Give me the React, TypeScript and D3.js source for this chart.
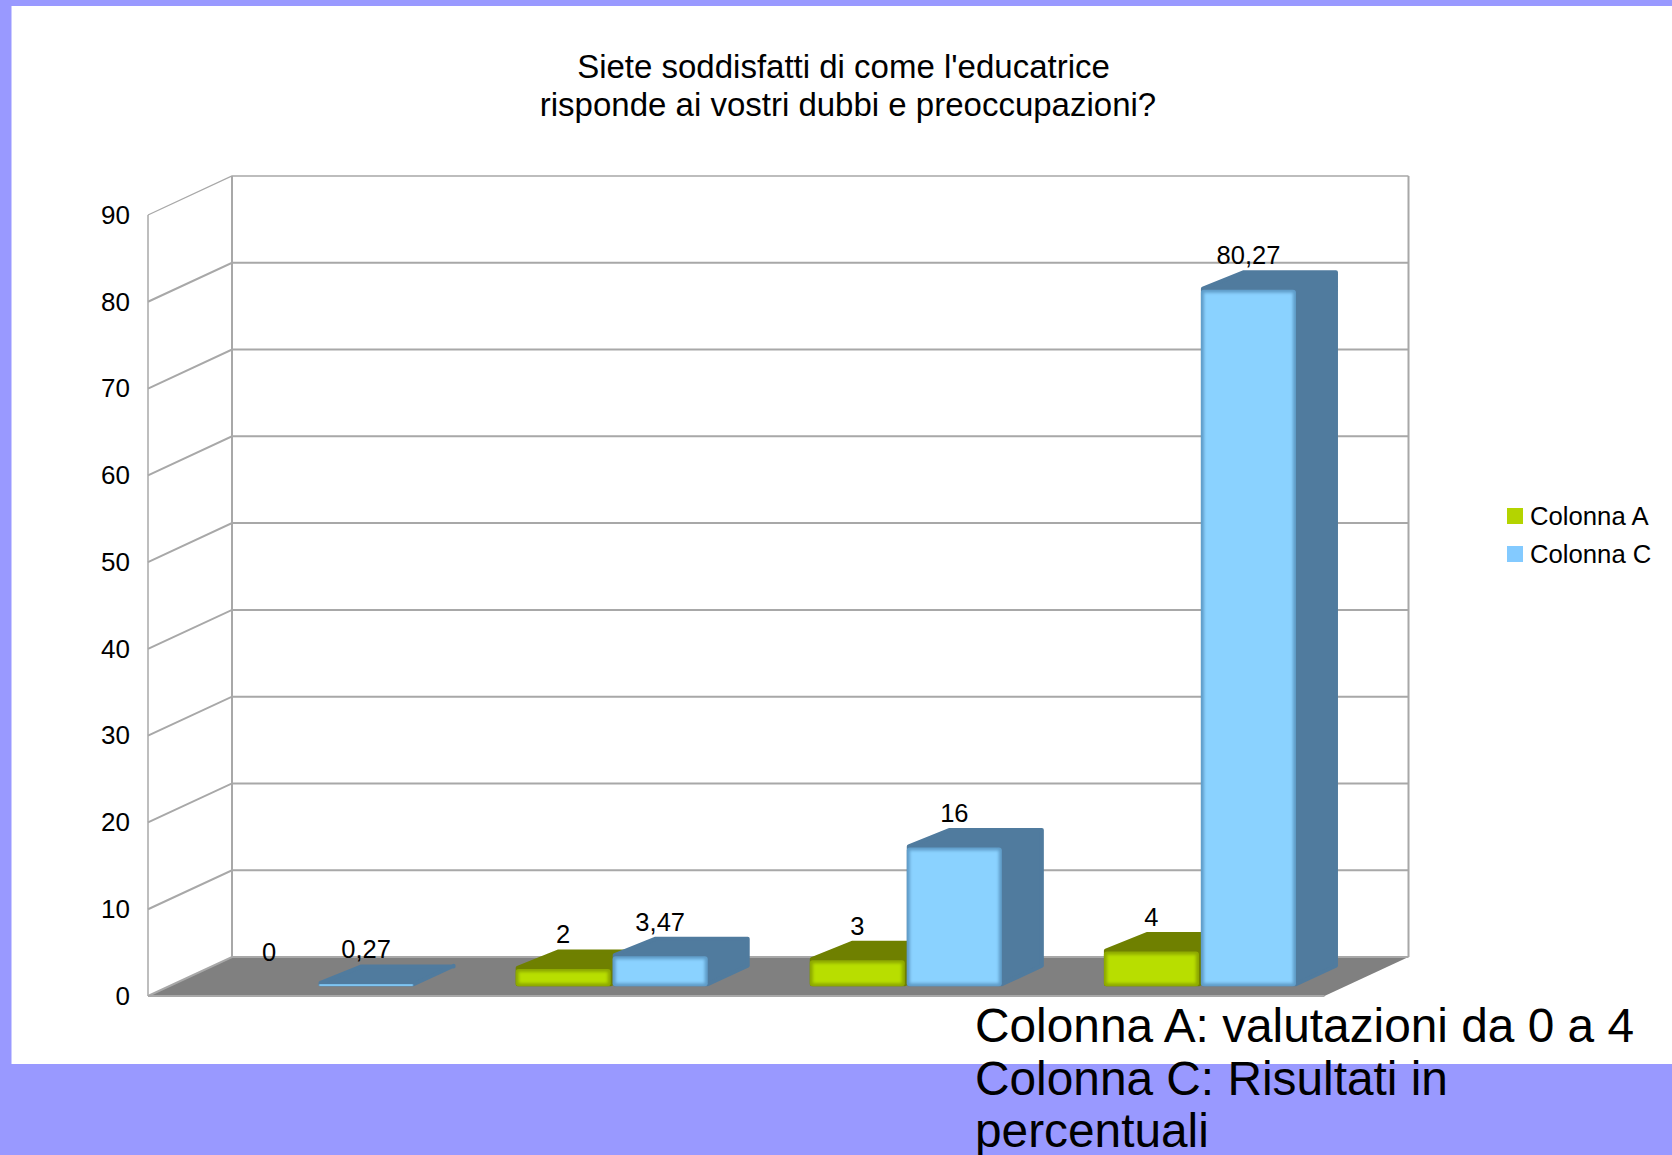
import React, { useRef, useEffect } from 'react';
import * as d3 from 'd3';

const categories = ['1', '2', '3', '4'];
const seriesNames = ['Colonna A', 'Colonna C'];
const colonnaA = [0, 2, 3, 4];
const colonnaC = [0.27, 3.47, 16, 80.27];
const yTicks = [0, 10, 20, 30, 40, 50, 60, 70, 80, 90];
const titleLines = ["Siete soddisfatti di come l'educatrice", 'risponde ai vostri dubbi e preoccupazioni?'];
const noteLines = ['Colonna A: valutazioni da 0 a 4', 'Colonna C: Risultati in', 'percentuali'];

const FONT = '"Liberation Sans", Arial, sans-serif';
const faceColors = ['#b8de00', '#8ad2ff'];
const edgeColors = ['#8da800', '#5f9cc8'];
const sideColors = ['#6f8000', '#507b9e'];
const legendColors = ['#b4d400', '#83caff'];

// the oblique box of the chart
const left = 148;
const right = 1324.5;
const bottom = 996;
const top = 215;
const depthX = 84;
const depthY = 39;
const gridColor = '#a8a8a8';

export default function App() {
    const svgRef = useRef<SVGSVGElement>(null);

    useEffect(() => {
        const svg = d3.select(svgRef.current);
        svg.selectAll('*').remove();

        const x0 = d3.scaleBand().domain(categories).range([0, right - left]).paddingInner(0.347).paddingOuter(0.1735);
        const x1 = d3.scaleBand().domain(seriesNames).range([0, x0.bandwidth()]).paddingInner(0.02).paddingOuter(0);
        const y = d3.scaleLinear().domain([0, 90]).range([bottom, top]);
        const linePath = d3.line();

        // background
        svg.append('rect').attr('width', 1672).attr('height', 1155).attr('fill', '#9999ff');
        svg.append('rect').attr('x', 11.5).attr('y', 6).attr('width', 1661).attr('height', 1058).attr('fill', '#ffffff');

        const defs = svg.append('defs');
        defs.append('filter').attr('id', 'soft')
            .attr('x', '-20%').attr('y', '-20%').attr('width', '140%').attr('height', '140%')
            .append('feGaussianBlur').attr('stdDeviation', 1.6);

        // floor
        svg.append('path')
            .attr('d', linePath([[left, bottom], [left + depthX, bottom - depthY], [right + depthX, bottom - depthY], [right, bottom]]) + 'Z')
            .attr('fill', '#808080');
        svg.append('line')
            .attr('x1', left).attr('x2', right).attr('y1', bottom).attr('y2', bottom)
            .attr('stroke', gridColor).attr('stroke-width', 2);

        // walls
        const grid = svg.append('g').attr('fill', 'none').attr('stroke', gridColor);
        yTicks.forEach(t => {
            const w = t === 90 ? 1.3 : 2;
            grid.append('path').attr('stroke-width', w)
                .attr('d', linePath([[left, y(t)], [left + depthX, y(t) - depthY], [right + depthX, y(t) - depthY]]));
        });
        grid.append('line').attr('x1', left).attr('x2', left).attr('y1', y(90)).attr('y2', y(0)).attr('stroke-width', 1.5);
        grid.append('line').attr('x1', left + depthX).attr('x2', left + depthX).attr('y1', y(90) - depthY).attr('y2', y(0) - depthY).attr('stroke-width', 2);
        grid.append('line').attr('x1', right + depthX).attr('x2', right + depthX).attr('y1', y(90) - depthY).attr('y2', y(0) - depthY).attr('stroke-width', 2);

        // bars stand in the middle half of the depth
        const frontX = depthX * 0.25 + 1.5;
        const frontY = depthY * 0.25;
        const boxX = depthX * 0.5;
        const boxY = depthY * 0.5;
        const labels: { x: number, y: number, text: string }[] = [];

        categories.forEach((c, ci) => {
            [colonnaA[ci], colonnaC[ci]].forEach((v, si) => {
                const xa = left + x0(c) + x1(seriesNames[si]) + frontX;
                const xb = xa + x1.bandwidth();
                const yBase = y(0) - frontY;
                const yTop = y(v) - frontY;
                labels.push({
                    x: (xa + xb) / 2,
                    y: yTop - boxY - 6,
                    text: String(v).replace('.', ','),
                });
                if (v === 0) return;

                const g = svg.append('g');
                // inset by the stroke so the round join gives the soft corners
                g.append('path')
                    .attr('d', linePath([
                        [xa + 2, yTop - 1],
                        [xa + boxX + 1, yTop - boxY + 2],
                        [xb + boxX - 2, yTop - boxY + 2],
                        [xb + boxX - 2, yBase - boxY - 1],
                        [xb, yBase - 2],
                        [xa + 2, yBase - 2],
                    ]) + 'Z')
                    .attr('fill', sideColors[si])
                    .attr('stroke', sideColors[si])
                    .attr('stroke-width', 4)
                    .attr('stroke-linejoin', 'round');

                const h = yBase - yTop;
                g.append('rect')
                    .attr('x', xa).attr('y', yTop).attr('width', xb - xa).attr('height', h)
                    .attr('rx', Math.min(3, h / 2))
                    .attr('fill', edgeColors[si]);
                if (h > 6) {
                    g.append('rect')
                        .attr('x', xa + 3).attr('y', yTop + 3).attr('width', xb - xa - 6).attr('height', h - 6)
                        .attr('fill', faceColors[si])
                        .attr('filter', 'url(#soft)');
                } else {
                    g.append('rect')
                        .attr('x', xa + 1).attr('y', yTop + 0.5).attr('width', xb - xa - 2).attr('height', h - 1)
                        .attr('fill', faceColors[si]);
                }
            });
        });

        // y axis
        const axis = svg.append('g')
            .attr('transform', `translate(${left},0)`)
            .call(d3.axisLeft(y).tickValues(yTicks).tickSize(0).tickPadding(18));
        axis.select('.domain').remove();
        axis.selectAll('text').attr('font-family', FONT).attr('font-size', 26).attr('fill', '#000000');

        // value labels
        svg.append('g').selectAll('text').data(labels).join('text')
            .attr('x', d => d.x).attr('y', d => d.y)
            .attr('text-anchor', 'middle')
            .attr('font-family', FONT).attr('font-size', 25.5).attr('fill', '#000000')
            .text(d => d.text);

        // title
        svg.append('g').selectAll('text').data(titleLines).join('text')
            .attr('x', (d, i) => i === 0 ? 843.5 : 848)
            .attr('y', (d, i) => 78 + i * 38)
            .attr('text-anchor', 'middle')
            .attr('font-family', FONT).attr('font-size', 33).attr('fill', '#000000')
            .text(d => d);

        // legend
        const legend = svg.append('g');
        seriesNames.forEach((name, i) => {
            legend.append('rect')
                .attr('x', 1507).attr('y', 508 + i * 38).attr('width', 16).attr('height', 16)
                .attr('fill', legendColors[i]);
            legend.append('text')
                .attr('x', 1530).attr('y', 525 + i * 38)
                .attr('font-family', FONT).attr('font-size', 25.7).attr('fill', '#000000')
                .text(name);
        });

        // note over the bottom band
        svg.append('g').selectAll('text').data(noteLines).join('text')
            .attr('x', 975).attr('y', (d, i) => 1042 + i * 52.7)
            .attr('font-family', FONT).attr('font-size', 47.8).attr('fill', '#000000')
            .text(d => d);
    }, []);

    return (
        <svg ref={svgRef} width={1672} height={1155}
            style={{ position: 'absolute', left: 0, top: 0, display: 'block' }} />
    );
}
